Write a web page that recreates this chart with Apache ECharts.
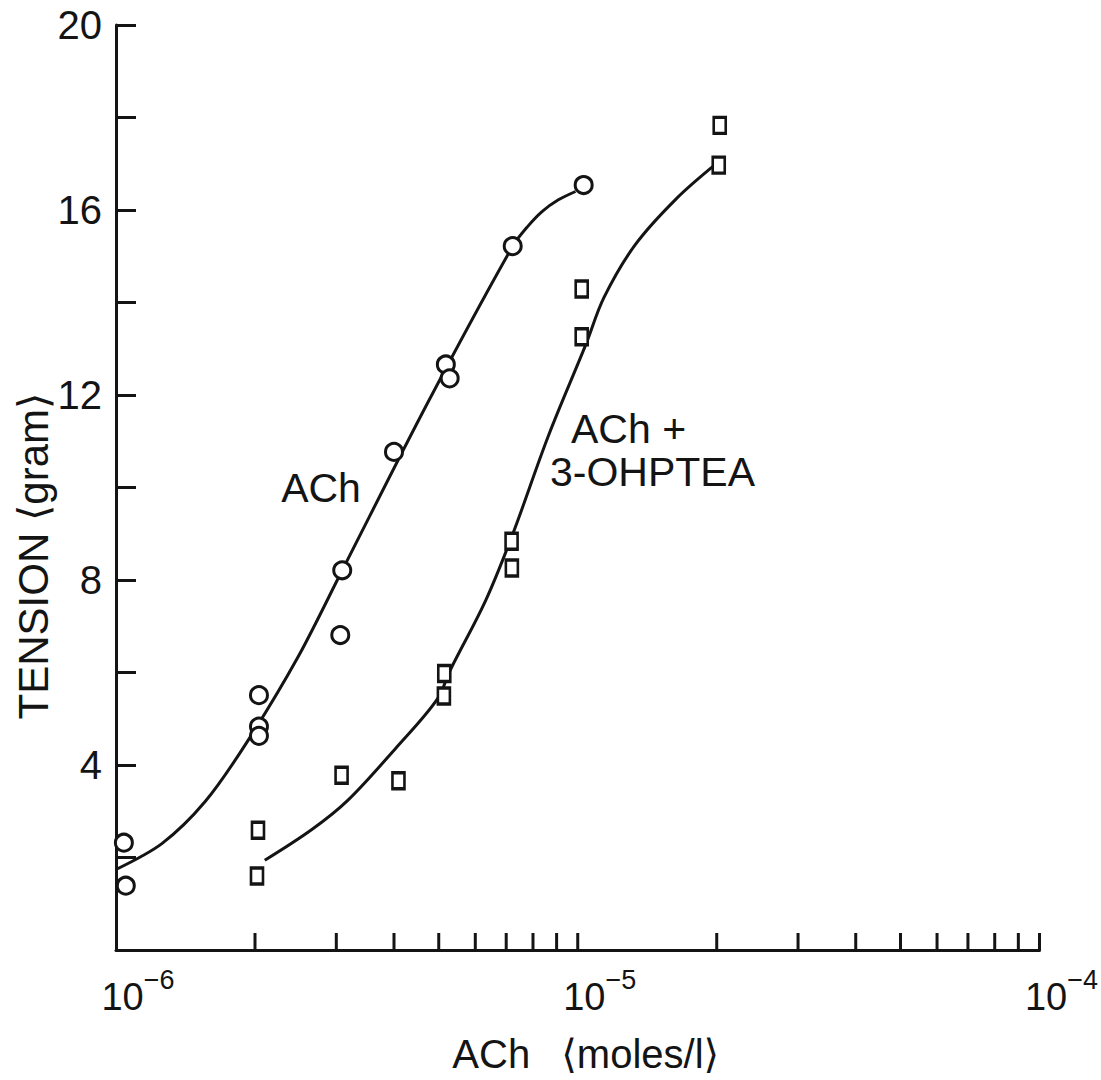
<!DOCTYPE html>
<html>
<head>
<meta charset="utf-8">
<script src="https://cdn.jsdelivr.net/npm/echarts@6/dist/echarts.min.js"></script>
<style>
html,body{margin:0;padding:0;background:#fff;}
#chart{width:1101px;height:1080px;}
</style>
</head>
<body>
<div id="chart"></div>
<script>
// ---- data ----
const achX = [1.04e-6, 1.05e-6, 2.04e-6, 2.04e-6, 2.04e-6, 3.09e-6, 3.06e-6, 4.0e-6, 5.18e-6, 5.28e-6, 7.23e-6, 1.03e-5];
const achY = [2.32, 1.39, 5.51, 4.83, 4.63, 8.21, 6.81, 10.77, 12.66, 12.36, 15.22, 16.54];

const ohpX = [2.03e-6, 2.02e-6, 3.08e-6, 4.09e-6, 5.14e-6, 5.13e-6, 7.19e-6, 7.2e-6, 1.02e-5, 1.02e-5, 2.03e-5, 2.02e-5];
const ohpY = [2.59, 1.60, 3.78, 3.66, 5.98, 5.49, 8.84, 8.26, 14.29, 13.26, 17.83, 16.97];

const achCurveX = [1.0e-6, 1.257e-6, 1.56e-6, 1.92e-6, 2.48e-6, 3.09e-6, 4.72e-6, 7.23e-6, 7.77e-6, 8.38e-6, 9.08e-6, 9.89e-6];
const achCurveY = [1.74, 2.30, 3.21, 4.49, 6.34, 8.21, 11.81, 15.22, 15.63, 15.97, 16.22, 16.40];

const ohpCurveX = [2.10e-6, 2.66e-6, 3.18e-6, 4.04e-6, 4.96e-6, 5.30e-6, 6.32e-6, 7.23e-6, 8.64e-6, 1.042e-5, 1.14e-5, 1.33e-5, 1.63e-5, 1.99e-5];
const ohpCurveY = [1.94, 2.61, 3.24, 4.37, 5.42, 6.06, 7.56, 8.99, 11.12, 13.10, 14.11, 15.24, 16.23, 16.99];

const xTickValues = [2e-6, 3e-6, 4e-6, 5e-6, 6e-6, 7e-6, 8e-6, 9e-6, 1e-5,
                     2e-5, 3e-5, 4e-5, 5e-5, 6e-5, 7e-5, 8e-5, 9e-5, 1e-4];
const yLabelValues = [4, 8, 12, 16, 20];

const xTitle = 'ACh \u2002\u27E8moles/l\u27E9';
const yTitle = 'TENSION \u27E8gram\u27E9';
const labelAch = 'ACh';
const labelOhp1 = 'ACh +';
const labelOhp2 = '3-OHPTEA';

// ---- chart ----
const FONT = '"Liberation Sans", Arial, Helvetica, "DejaVu Sans", sans-serif';
const INK = '#141414';
const zip = (xs, ys) => xs.map((x, i) => [x, ys[i]]);

const chart = echarts.init(document.getElementById('chart'), null, {renderer: 'svg'});
chart.setOption({
  animation: false,
  backgroundColor: '#fff',
  textStyle: {fontFamily: FONT, color: INK},
  grid: {left: 116, top: 25, width: 925, height: 925},
  xAxis: {
    type: 'log', logBase: 10, min: 1e-6, max: 1e-4,
    axisLine: {show: true, lineStyle: {color: INK, width: 3}},
    axisTick: {show: false},
    splitLine: {show: false},
    minorTick: {show: false},
    axisLabel: {
      margin: -6,
      padding: [0, 0, 0, 44],
      formatter: function (v) {
        const e = Math.round(Math.log10(v));
        return '{b|10}{s|\u2212' + Math.abs(e) + '}';
      },
      rich: {
        b: {fontFamily: FONT, fontSize: 38, color: INK, lineHeight: 40, verticalAlign: 'bottom'},
        s: {fontFamily: FONT, fontSize: 27, color: INK, lineHeight: 72, verticalAlign: 'middle'}
      }
    },
    name: xTitle,
    nameLocation: 'middle',
    nameGap: 84,
    nameTextStyle: {fontFamily: FONT, fontSize: 40, color: INK, padding: [0, 0, 0, 16]}
  },
  yAxis: {
    type: 'value', min: 0, max: 20, interval: 2,
    axisLine: {show: true, lineStyle: {color: INK, width: 3}},
    axisTick: {show: true, inside: true, length: 20, lineStyle: {color: INK, width: 3}},
    splitLine: {show: false},
    axisLabel: {
      margin: 14,
      fontFamily: FONT, fontSize: 40, color: INK,
      formatter: function (v) { return yLabelValues.indexOf(v) >= 0 ? String(v) : ''; }
    }
  },
  series: [
    {
      type: 'custom', name: 'xticks', clip: false, silent: true, z: 3,
      data: xTickValues.map(v => [v, 0]),
      renderItem: function (params, api) {
        const p = api.coord([api.value(0), 0]);
        return {type: 'line', shape: {x1: p[0], y1: p[1], x2: p[0], y2: p[1] - 17},
                style: {stroke: INK, lineWidth: 3}};
      }
    },
    {
      type: 'line', name: 'ACh curve', data: zip(achCurveX, achCurveY),
      showSymbol: false, symbol: 'none', smooth: 0.3, z: 2,
      lineStyle: {color: INK, width: 3}
    },
    {
      type: 'line', name: 'ACh + 3-OHPTEA curve', data: zip(ohpCurveX, ohpCurveY),
      showSymbol: false, symbol: 'none', smooth: 0.35, z: 2,
      lineStyle: {color: INK, width: 3}
    },
    {
      type: 'scatter', name: 'ACh', data: zip(achX, achY),
      symbol: 'circle', symbolSize: 17, z: 4,
      itemStyle: {color: '#fff', borderColor: INK, borderWidth: 3, opacity: 1}
    },
    {
      type: 'scatter', name: 'ACh + 3-OHPTEA', data: zip(ohpX, ohpY),
      symbol: 'rect', symbolSize: [12, 16], z: 4,
      itemStyle: {color: '#fff', borderColor: INK, borderWidth: 3, opacity: 1}
    }
  ],
  graphic: [
    {type: 'text', x: 33, y: 556, rotation: Math.PI / 2,
     style: {text: yTitle, font: '42px ' + FONT, fill: INK, align: 'center', verticalAlign: 'middle'}},
    {type: 'text', x: 321, y: 488, style: {text: labelAch, font: '41px ' + FONT, fill: INK, align: 'center', verticalAlign: 'middle'}},
    {type: 'text', x: 571, y: 429, style: {text: labelOhp1, font: '41px ' + FONT, fill: INK, align: 'left', verticalAlign: 'middle'}},
    {type: 'text', x: 550, y: 472, style: {text: labelOhp2, font: '41px ' + FONT, fill: INK, align: 'left', verticalAlign: 'middle'}}
  ]
});
</script>
</body>
</html>
